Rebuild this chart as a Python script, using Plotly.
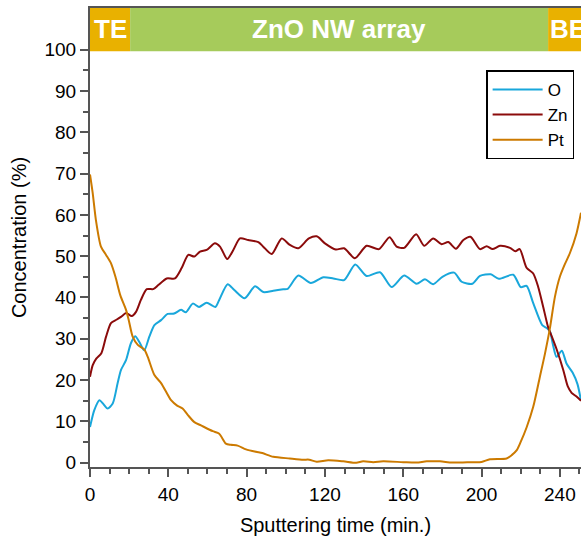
import plotly.graph_objects as go

# Sputtering time (min.) and concentration (%) for each element
o_time = [0, 2.2, 4.8, 7.3, 9.0, 11.6, 14.1, 15.8, 18.4, 20.9, 23.1, 25.2, 27.7, 30.3, 32.9,
          36.3, 39.7, 43.0, 46.5, 49.0, 52.5, 55.7, 59.6, 64.0, 66.0, 70.3, 73.7, 79.0, 84.3,
          88.5, 93.6, 98.7, 101.0, 106.4, 112.8, 119.2, 124.3, 129.8, 135.5, 141.3, 148.1,
          154.1, 160.5, 166.8, 171.1, 175.3, 180.0, 186.0, 189.8, 195.3, 199.2, 204.7, 208.8,
          216.2, 220.0, 223.0, 226.4, 231.0, 233.6, 235.0, 236.5, 238.3, 241.0, 243.4, 246.5,
          249.0, 250.8]
o_conc = [8.6, 12.7, 15.1, 13.9, 13.1, 14.3, 19.2, 22.4, 24.8, 28.9, 30.6, 29.2, 27.2, 30.5, 33.3,
          34.5, 36.0, 36.1, 37.0, 36.4, 38.5, 37.7, 38.7, 37.7, 39.4, 43.2, 41.8, 39.8, 42.7,
          41.3, 41.6, 42.0, 42.1, 45.3, 43.5, 44.9, 44.6, 44.2, 48.0, 45.2, 46.1,
          42.5, 45.3, 43.3, 44.4, 43.2, 45.0, 46.0, 43.8, 43.3, 45.2, 45.6, 44.5,
          45.5, 42.5, 42.8, 38.6, 33.3, 32.5, 31.7, 28.5, 25.6, 27.1, 24.0, 21.8,
          19.0, 15.0]

zn_time = [0, 1.4, 3.2, 5.8, 8.2, 10.7, 13.5, 15.8, 18.5, 21.3, 23.5, 26.0, 29.0, 32.3, 34.9,
           39.2, 43.4, 46.8, 50.2, 53.3, 56.2, 59.6, 63.8, 66.4, 70.1, 73.2, 76.6, 80.8, 86.0,
           88.5, 92.8, 97.9, 102.1, 106.4, 111.8, 115.8, 120.0, 125.5, 129.8, 135.3, 141.3,
           147.6, 153.0, 156.6, 160.5, 166.6, 170.7, 175.3, 179.6, 183.0, 186.9, 190.7, 194.3,
           199.2, 202.6, 205.6, 209.4, 214.5, 217.3, 219.5, 223.0, 226.4, 228.9, 231.5, 234.0,
           235.5, 238.3, 241.7, 244.0, 246.0, 248.5, 250.8]
zn_conc = [20.8, 23.6, 25.2, 26.5, 30.5, 33.8, 34.6, 35.3, 36.2, 35.5, 36.5, 39.4, 42.0, 42.0, 43.0,
           44.6, 44.6, 47.1, 50.3, 49.9, 51.1, 51.5, 53.1, 52.3, 49.3, 51.5, 54.3, 53.9, 53.4,
           52.3, 50.5, 54.3, 52.7, 51.9, 54.3, 54.8, 53.1, 51.6, 51.9, 49.5, 52.5,
           51.7, 54.6, 52.3, 52.0, 55.3, 52.5, 54.3, 52.9, 53.4, 51.8, 53.9, 54.7,
           51.7, 52.4, 51.7, 52.5, 52.0, 51.2, 51.7, 47.2, 45.8, 42.6, 37.7, 32.8,
           31.0, 27.5, 22.5, 18.5, 16.9, 16.0, 15.0]

pt_time = [0, 1.4, 3.0, 5.6, 8.2, 10.7, 13.0, 15.5, 18.4, 19.8, 21.8, 24.4, 27.7, 29.5, 32.9,
           36.4, 41.4, 44.5, 47.3, 50.0, 53.3, 56.7, 62.7, 66.0, 69.4, 72.0, 75.4, 79.7, 84.8,
           88.0, 93.6, 102.0, 109.0, 112.0, 115.8, 121.7, 129.4, 136.0, 139.5, 144.7, 149.8,
           160.0, 166.8, 172.0, 178.8, 185.0, 195.0, 200.0, 204.3, 212.8, 215.4, 218.0, 220.0,
           223.0, 226.4, 229.8, 232.4, 234.9, 237.5, 240.0, 242.5, 245.1, 248.5, 250.8]
pt_conc = [69.8, 65.2, 58.8, 52.3, 50.3, 48.3, 45.0, 40.5, 37.0, 34.5, 30.5, 28.5, 27.4, 25.6, 21.2,
           19.2, 15.1, 13.8, 13.1, 11.5, 9.8, 9.0, 7.6, 7.0, 4.6, 4.3, 4.1, 3.2, 2.6,
           2.3, 1.4, 1.0, 0.7, 0.7, 0.2, 0.55, 0.3, -0.05, 0.3, 0.1, 0.3,
           0.1, 0.0, 0.3, 0.3, 0.0, 0.1, 0.15, 0.8, 1.0, 1.8, 3.0, 5.0,
           8.5, 13.5, 20.8, 26.4, 32.5, 40.2, 45.0, 48.0, 50.7, 55.5, 60.5]

# Layer regions along the sputtering time axis
regions = ["TE", "ZnO NW array", "BE"]
region_start = [0, 20.5, 234]
region_end = [20.5, 234, 254]
region_colors = ["#E9B100", "#A6CB5B", "#E9B100"]

FONT = "Arial, 'Liberation Sans', sans-serif"
AXIS_COLOR = "#555555"

fig = go.Figure()
series = [("O", o_time, o_conc, "#19A7DB"),
          ("Zn", zn_time, zn_conc, "#8B0B0B"),
          ("Pt", pt_time, pt_conc, "#CC7A00")]
for name, t, c, col in series:
    fig.add_trace(go.Scatter(x=t, y=c, name=name, mode="lines",
                             line=dict(color=col, width=2, shape="spline", smoothing=0.7)))

for label, x0, x1, col in zip(regions, region_start, region_end, region_colors):
    fig.add_shape(type="rect", xref="x", yref="y", x0=x0, x1=x1, y0=99.6, y1=110.2,
                  fillcolor=col, line_width=0, layer="below")
    fig.add_annotation(x=(x0 + x1) / 2, y=104.9, xref="x", yref="y", text=label,
                       showarrow=False, font=dict(family=FONT, size=26, color="white", weight="bold"))

fig.update_layout(
    width=581, height=538,
    margin=dict(l=90, r=0, t=8, b=71),
    paper_bgcolor="white", plot_bgcolor="white",
    font=dict(family=FONT, size=19, color="black"),
    showlegend=True,
    legend=dict(x=0.986, y=0.864, xanchor="right", yanchor="top",
                bordercolor="black", borderwidth=1.5, bgcolor="white",
                font=dict(size=17), tracegroupgap=0, itemwidth=50),
)
fig.update_xaxes(
    range=[0, 250.8], showgrid=False, zeroline=False,
    showline=True, linecolor=AXIS_COLOR, linewidth=2, mirror=True,
    ticks="outside", ticklen=8, tickwidth=1.5, tickcolor=AXIS_COLOR,
    tickmode="array", tickvals=[0, 40, 80, 120, 160, 200, 240],
    minor=dict(ticks="outside", ticklen=5, tickwidth=1.5, tickcolor=AXIS_COLOR, dtick=10, tick0=0),
    tickfont=dict(size=19), ticklabelstandoff=1,
    title=dict(text="Sputtering time (min.)", font=dict(size=20), standoff=14),
)
fig.update_yaxes(
    range=[-1.07, 110.1], showgrid=False, zeroline=False,
    showline=True, linecolor=AXIS_COLOR, linewidth=2,
    ticks="outside", ticklen=8, tickwidth=1.5, tickcolor=AXIS_COLOR,
    tickmode="array", tickvals=list(range(0, 101, 10)),
    minor=dict(ticks="outside", ticklen=5, tickwidth=1.5, tickcolor=AXIS_COLOR,
               tickvals=list(range(5, 100, 10))),
    tickfont=dict(size=19),
    title=dict(text="Concentration (%)", font=dict(size=20), standoff=12),
)

fig.write_html("out.html")
